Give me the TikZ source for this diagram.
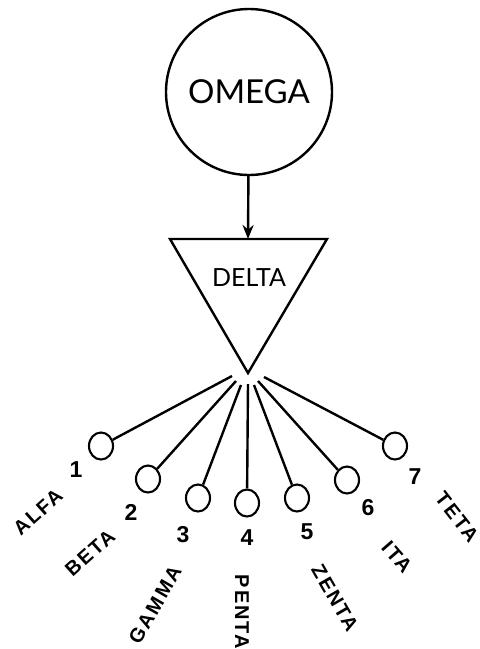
\documentclass[tikz,border=0pt]{standalone}
\usepackage{fontspec}
\usetikzlibrary{arrows.meta,shapes.geometric}
\newfontfamily\titlefont{Lato}
\newfontfamily\labfont[LetterSpace=10]{Liberation Sans}
\newfontfamily\numfont{Liberation Sans}
\begin{document}
\begin{tikzpicture}[x=1pt,y=-1pt,
  line width=2.4pt,
  bigcirc/.style={draw,circle,minimum size=166pt,inner sep=0pt,font=\titlefont\fontsize{33}{33}\selectfont},
  leaf/.style={draw,ellipse,minimum width=24pt,minimum height=27pt,inner sep=0pt,line width=2.1pt},
  num/.style={font=\numfont\bfseries\fontsize{23}{23}\selectfont,inner sep=0pt},
  lab/.style={font=\labfont\bfseries\fontsize{20}{20}\selectfont,inner sep=0pt},
  spoke/.style={line width=2.4pt}]
\useasboundingbox (0,0) rectangle (480,649);
\fill[white] (0,0) rectangle (480,649);
% OMEGA
\node[bigcirc] (omega) at (249,92) {OMEGA};
% DELTA triangle
\coordinate (tl) at (170,239);
\coordinate (tr) at (327,239);
\coordinate (tb) at (248,373);
\coordinate (ttop) at (248,239);
\draw[line join=miter] (tl) -- (tr) -- (tb) -- cycle;
\node[font=\titlefont\fontsize{25}{25}\selectfont] (delta) at (249,278) {DELTA};
\draw[-{Stealth[length=14pt,width=11pt]}] (omega) -- (ttop);
% spoke starts
\coordinate (s1) at (232,376);
\coordinate (s2) at (236,381);
\coordinate (s3) at (241,385);
\coordinate (s4) at (248,384);
\coordinate (s5) at (254,385);
\coordinate (s6) at (258,381);
\coordinate (s7) at (264,377);
% leaves
\node[leaf] (c1) at (101,446) {};
\node[leaf] (c2) at (148,479) {};
\node[leaf] (c3) at (198,498) {};
\node[leaf] (c4) at (247,503) {};
\node[leaf] (c5) at (297,498) {};
\node[leaf] (c6) at (347,480) {};
\node[leaf] (c7) at (395,446) {};
\foreach \i in {1,...,7} {\draw[spoke] (s\i) -- (c\i);}
% numbers
\node[num] (n1) at (76,470) {1};
\node[num] (n2) at (131,512) {2};
\node[num] (n3) at (183,535) {3};
\node[num] (n4) at (247,538) {4};
\node[num] (n5) at (307,532) {5};
\node[num] (n6) at (368,508) {6};
\node[num] (n7) at (415,477) {7};
% labels
\node[lab,rotate=42] (l1) at (38,512) {ALFA};
\node[lab,rotate=42] (l2) at (90,553) {BETA};
\node[lab,rotate=60] (l3) at (155,605) {GAMMA};
\node[lab,rotate=-90] (l4) at (242,612) {PENTA};
\node[lab,rotate=-60] (l5) at (335,598) {ZENTA};
\node[lab,rotate=-49] (l6) at (397,557) {ITA};
\node[lab,rotate=-52] (l7) at (457,517) {TETA};
\end{tikzpicture}
\end{document}
